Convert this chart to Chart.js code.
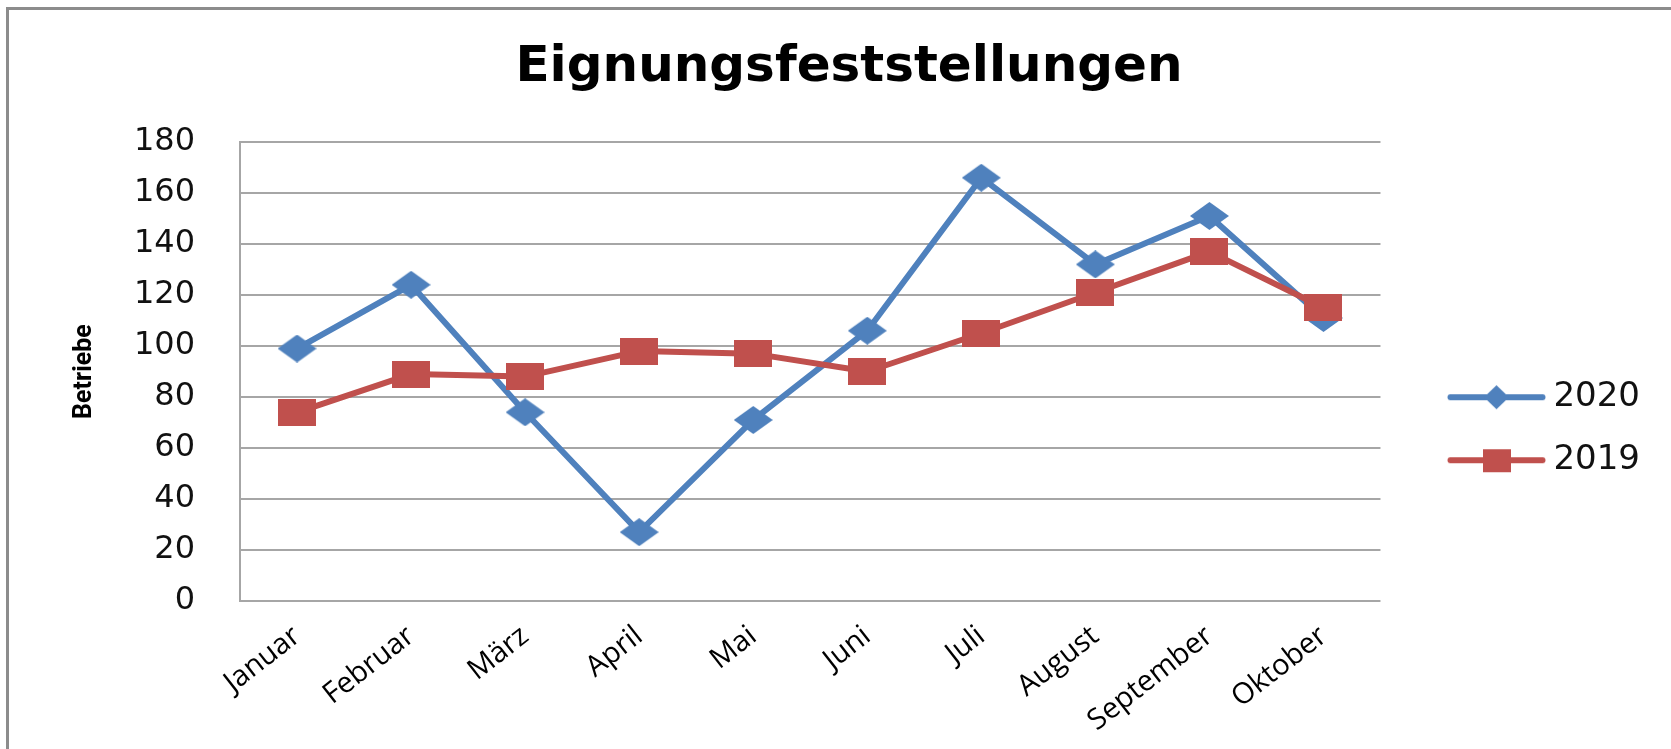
<!DOCTYPE html>
<html>
<head>
<meta charset="utf-8">
<title>Eignungsfeststellungen</title>
<script src="https://cdn.jsdelivr.net/npm/chart.js@4.4.1/dist/chart.umd.min.js"></script>
<style>
    html, body { margin: 0; padding: 0; background: #fff; }
    #wrap { position: relative; width: 1671px; height: 749px; overflow: hidden; }
    #frame { position: absolute; left: 6px; top: 7px; right: -20px; bottom: -20px;
             border-left: 3px solid #8c8c8c; border-top: 3px solid #8c8c8c; }
    #chart { position: absolute; left: 0; top: 0; }
</style>
</head>
<body>
<div id="wrap">
    <div id="frame"></div>
    <canvas id="chart" width="1671" height="749"></canvas>
</div>
<script>
// data
var months = ["Januar", "Februar", "März", "April", "Mai", "Juni", "Juli", "August", "September", "Oktober"];
var betriebe2020 = [99, 124, 74, 27, 71, 106, 166, 132, 151, 111];
var betriebe2019 = [74, 89, 88, 98, 97, 90, 105, 121, 137, 115];
var seriesNames = ["2020", "2019"];
var yMin = 0;
var yMax = 180;
var yStep = 20;

var blue = "#4f81bd";
var red = "#c0504d";
var gridGrey = "#a6a6a6";
var textColor = "#111";

// markers are a bit wider than tall, like in the original
function diamond(color, w, h) {
    var c = document.createElement("canvas");
    c.width = w;
    c.height = h;
    var g = c.getContext("2d");
    g.fillStyle = color;
    g.beginPath();
    g.moveTo(w / 2, 0);
    g.lineTo(w, h / 2);
    g.lineTo(w / 2, h);
    g.lineTo(0, h / 2);
    g.closePath();
    g.fill();
    return c;
}

function block(color, w, h) {
    var c = document.createElement("canvas");
    c.width = w;
    c.height = h;
    var g = c.getContext("2d");
    g.fillStyle = color;
    g.fillRect(0, 0, w, h);
    return c;
}

// legend symbol: line with the marker on it
function legendIcon(color, marker) {
    var c = document.createElement("canvas");
    c.width = 150;
    c.height = 40;
    var g = c.getContext("2d");
    g.strokeStyle = color;
    g.lineWidth = 6;
    g.lineCap = "round";
    g.beginPath();
    g.moveTo(52.5, 20);
    g.lineTo(144.5, 20);
    g.stroke();
    g.drawImage(marker, 98.5 - marker.width / 2, 20 - marker.height / 2);
    return c;
}

var legendIcons = [
    legendIcon(blue, diamond(blue, 25, 24)),
    legendIcon(red, block(red, 28, 23))
];

Chart.defaults.font.family = "'DejaVu Sans', sans-serif";

var ctx = document.getElementById("chart").getContext("2d");
var chart = new Chart(ctx, {
    type: "line",
    data: {
        labels: months,
        datasets: [
            {
                label: seriesNames[0],
                data: betriebe2020,
                borderColor: blue,
                backgroundColor: blue,
                borderWidth: 6,
                borderJoinStyle: "round",
                tension: 0,
                pointStyle: diamond(blue, 39, 28),
                pointRadius: 15,
                order: 1
            },
            {
                label: seriesNames[1],
                data: betriebe2019,
                borderColor: red,
                backgroundColor: red,
                borderWidth: 6,
                borderJoinStyle: "round",
                tension: 0,
                pointStyle: block(red, 38, 27),
                pointRadius: 15,
                order: 0
            }
        ]
    },
    options: {
        responsive: false,
        animation: false,
        devicePixelRatio: 1,
        layout: {
            padding: { left: 48, right: 21, top: 0, bottom: 0 }
        },
        plugins: {
            tooltip: { enabled: false },
            title: {
                display: true,
                text: "Eignungsfeststellungen",
                color: "#000",
                font: { family: "'DejaVu Sans', sans-serif", weight: "bold", size: 50 },
                padding: { top: 38, bottom: 44 }
            },
            legend: {
                position: "right",
                title: { display: true, text: " ", padding: { top: 94, bottom: 0 } },
                labels: {
                    usePointStyle: true,
                    pointStyleWidth: 127,
                    padding: 29,
                    color: textColor,
                    font: { size: 34 },
                    generateLabels: function (chart) {
                        return chart.data.datasets.map(function (ds, i) {
                            return {
                                text: ds.label,
                                pointStyle: legendIcons[i],
                                fillStyle: ds.borderColor,
                                strokeStyle: ds.borderColor,
                                fontColor: textColor,
                                lineWidth: 0,
                                hidden: false,
                                datasetIndex: i
                            };
                        });
                    }
                }
            }
        },
        scales: {
            x: {
                offset: true,
                grid: { display: false, drawTicks: false, offset: true },
                border: { display: false },
                ticks: {
                    autoSkip: false,
                    minRotation: 38,
                    maxRotation: 38,
                    padding: 18,
                    color: "#000",
                    font: { family: "'Open Sans', sans-serif", size: 29 }
                },
                afterFit: function (scale) { scale.height = 148; }
            },
            y: {
                min: yMin,
                max: yMax,
                ticks: {
                    stepSize: yStep,
                    padding: 45,
                    color: textColor,
                    font: { size: 32 }
                },
                grid: { color: gridGrey, lineWidth: 2, drawTicks: false },
                border: { display: true, color: gridGrey, width: 2 },
                title: {
                    display: true,
                    text: "Betriebe",
                    color: "#000",
                    font: { family: "Roboto, sans-serif", weight: "bold", size: 25 },
                    padding: { top: 22, bottom: 0 }
                },
                afterFit: function (scale) { scale.width = 192; }
            }
        }
    }
});
</script>
</body>
</html>
